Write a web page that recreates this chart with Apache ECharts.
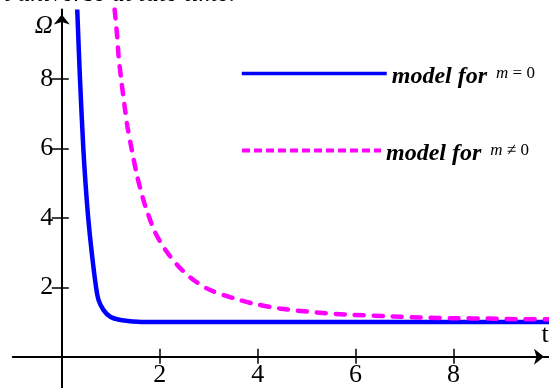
<!DOCTYPE html>
<html><head><meta charset="utf-8">
<script src="https://cdn.jsdelivr.net/npm/echarts@6/dist/echarts.min.js"></script>
<style>html,body{margin:0;padding:0;background:#fff}#c{width:549px;height:388px}</style>
</head><body><div id="c"></div>
<script>
// Data
const tZero = [0.316,0.372,0.44,0.485,0.54,0.612,0.70,0.752,0.85,0.99,1.2,1.55,2.0,3,5,7,9,9.95];
const omegaZero = [10,8,6,5,4,3,2,1.63,1.35,1.15,1.06,1.01,1.0,1.0,1.0,1.0,1.0,1.0];
const tNonZero = [1.08,1.13,1.16,1.215,1.28,1.34,1.43,1.54,1.66,1.74,1.91,2.14,2.42,2.69,3.03,3.50,3.88,4.45,5.17,5.88,6.59,7.31,8.02,8.7,9.45,9.95];
const omegaNonZero = [10,9.25,8.66,7.97,7.25,6.63,5.96,5.2,4.55,4.2,3.57,3.03,2.55,2.21,1.92,1.69,1.54,1.39,1.28,1.21,1.17,1.13,1.11,1.10,1.08,1.08];
const xTicks = [2,4,6,8];
const yTicks = [2,4,6,8];
const nameZero = 'model for m = 0';
const nameNonZero = 'model for m \u2260 0';
const titleText = 't universe at late time.';

const SERIF = '"Liberation Serif", "DejaVu Serif", serif';
const chart = echarts.init(document.getElementById('c'), null, {renderer:'canvas'});

function richStyles(){
  return {
    a:{fontFamily:SERIF, fontSize:24, fontWeight:'bold', fontStyle:'italic', color:'#000', lineHeight:26, padding:[6,0,0,0], verticalAlign:'middle'},
    m:{fontFamily:SERIF, fontSize:17, fontStyle:'italic', color:'#000', lineHeight:26, padding:[0,0,0,9], verticalAlign:'middle'},
    c:{fontFamily:SERIF, fontSize:17, color:'#000', lineHeight:26, verticalAlign:'middle'}
  };
}
// axis geometry: grid bottom at 388, value 0 of y at 356.75 ; x=0 at 61.8
const X_AXIS_OFFSET = -31.25;
const Y_AXIS_OFFSET = -49;
const arrowLine = {
  show:true, onZero:false,
  lineStyle:{color:'#000', width:2},
  symbol:['none','arrow'],
  symbolSize:[12,10],
  symbolOffset:[0,-5]
};
const tickStyle = {color:'#000', width:1.5};
const hiddenSymbol = {color:'rgba(0,0,0,0)', borderColor:'rgba(0,0,0,0)', borderWidth:0};

chart.setOption({
  animation:false,
  backgroundColor:'#fff',
  grid:{left:12.8, right:0, top:9.5, bottom:0, containLabel:false, outerBoundsMode:'none'},
  graphic:[{
    type:'text', x:3.75, y:-5.5, silent:true,
    style:{text:titleText, fontFamily:SERIF, fontSize:26, fontStyle:'italic', fill:'#000', verticalAlign:'middle', align:'left'}
  }],
  legend:[
    {
      data:[{name:nameZero, lineStyle:{width:3.5, type:'solid'}, itemStyle:hiddenSymbol}],
      left:240, top:58.5, padding:0, itemWidth:145, itemHeight:14, selectedMode:false,
      lineStyle:{width:3.5}, itemStyle:hiddenSymbol,
      formatter:()=>'{a|model for}{m|m}{c| = 0}',
      textStyle:{rich:richStyles()}
    },
    {
      data:[{name:nameNonZero, lineStyle:{width:4, type:[8,4], cap:'butt'}, itemStyle:hiddenSymbol}],
      left:240, top:135.5, padding:0, itemWidth:139, itemHeight:14, selectedMode:false,
      lineStyle:{width:4}, itemStyle:hiddenSymbol,
      formatter:()=>'{a|model for}{m|m}{c| \u2260 0}',
      textStyle:{rich:richStyles()}
    }
  ],
  xAxis:[
    {
      type:'value', min:-1, max:9.95, position:'bottom', offset:X_AXIS_OFFSET,
      axisLine:arrowLine,
      axisTick:{show:true, inside:true, length:8, customValues:xTicks, lineStyle:tickStyle},
      axisLabel:{show:true, customValues:xTicks, fontFamily:SERIF, fontSize:26, color:'#000', margin:5},
      splitLine:{show:false},
      name:'t', nameLocation:'end', nameGap:-4,
      nameTextStyle:{fontFamily:SERIF, fontSize:26, color:'#000', align:'center', verticalAlign:'bottom', padding:[0,0,9,0]}
    },
    {
      type:'value', min:-1, max:9.95, position:'bottom', offset:X_AXIS_OFFSET,
      axisLine:{show:false, onZero:false},
      axisTick:{show:true, inside:false, length:7, customValues:xTicks, lineStyle:tickStyle},
      axisLabel:{show:false},
      splitLine:{show:false}
    }
  ],
  yAxis:[
    {
      type:'value', min:-0.9, max:10, position:'left', offset:Y_AXIS_OFFSET,
      axisLine:arrowLine,
      axisTick:{show:true, inside:true, length:7, customValues:yTicks, lineStyle:tickStyle},
      axisLabel:{show:true, customValues:yTicks, fontFamily:SERIF, fontSize:26, color:'#000', margin:8.5},
      splitLine:{show:false},
      name:'\u03A9', nameLocation:'end', nameGap:-17,
      nameTextStyle:{fontFamily:SERIF, fontSize:25, fontStyle:'italic', color:'#000', align:'right', verticalAlign:'middle', padding:[0,9,0,0]}
    },
    {
      type:'value', min:-0.9, max:10, position:'left', offset:Y_AXIS_OFFSET,
      axisLine:{show:false, onZero:false},
      axisTick:{show:true, inside:false, length:10, customValues:yTicks, lineStyle:tickStyle},
      axisLabel:{show:false},
      splitLine:{show:false}
    }
  ],
  series:[
    {
      name:nameZero, type:'line', xAxisIndex:0, yAxisIndex:0,
      data:tZero.map((t,i)=>[t, omegaZero[i]]),
      symbol:'none', showSymbol:false, smooth:0.3, clip:true,
      lineStyle:{color:'#0000ff', width:4.5}, itemStyle:{color:'#0000ff'}
    },
    {
      name:nameNonZero, type:'line', xAxisIndex:0, yAxisIndex:0,
      data:tNonZero.map((t,i)=>[t, omegaNonZero[i]]),
      symbol:'none', showSymbol:false, smooth:0.3, clip:true,
      lineStyle:{color:'#ff00ff', width:4.5, type:[9,10], cap:'round'}, itemStyle:{color:'#ff00ff'}
    }
  ]
});
</script></body></html>
